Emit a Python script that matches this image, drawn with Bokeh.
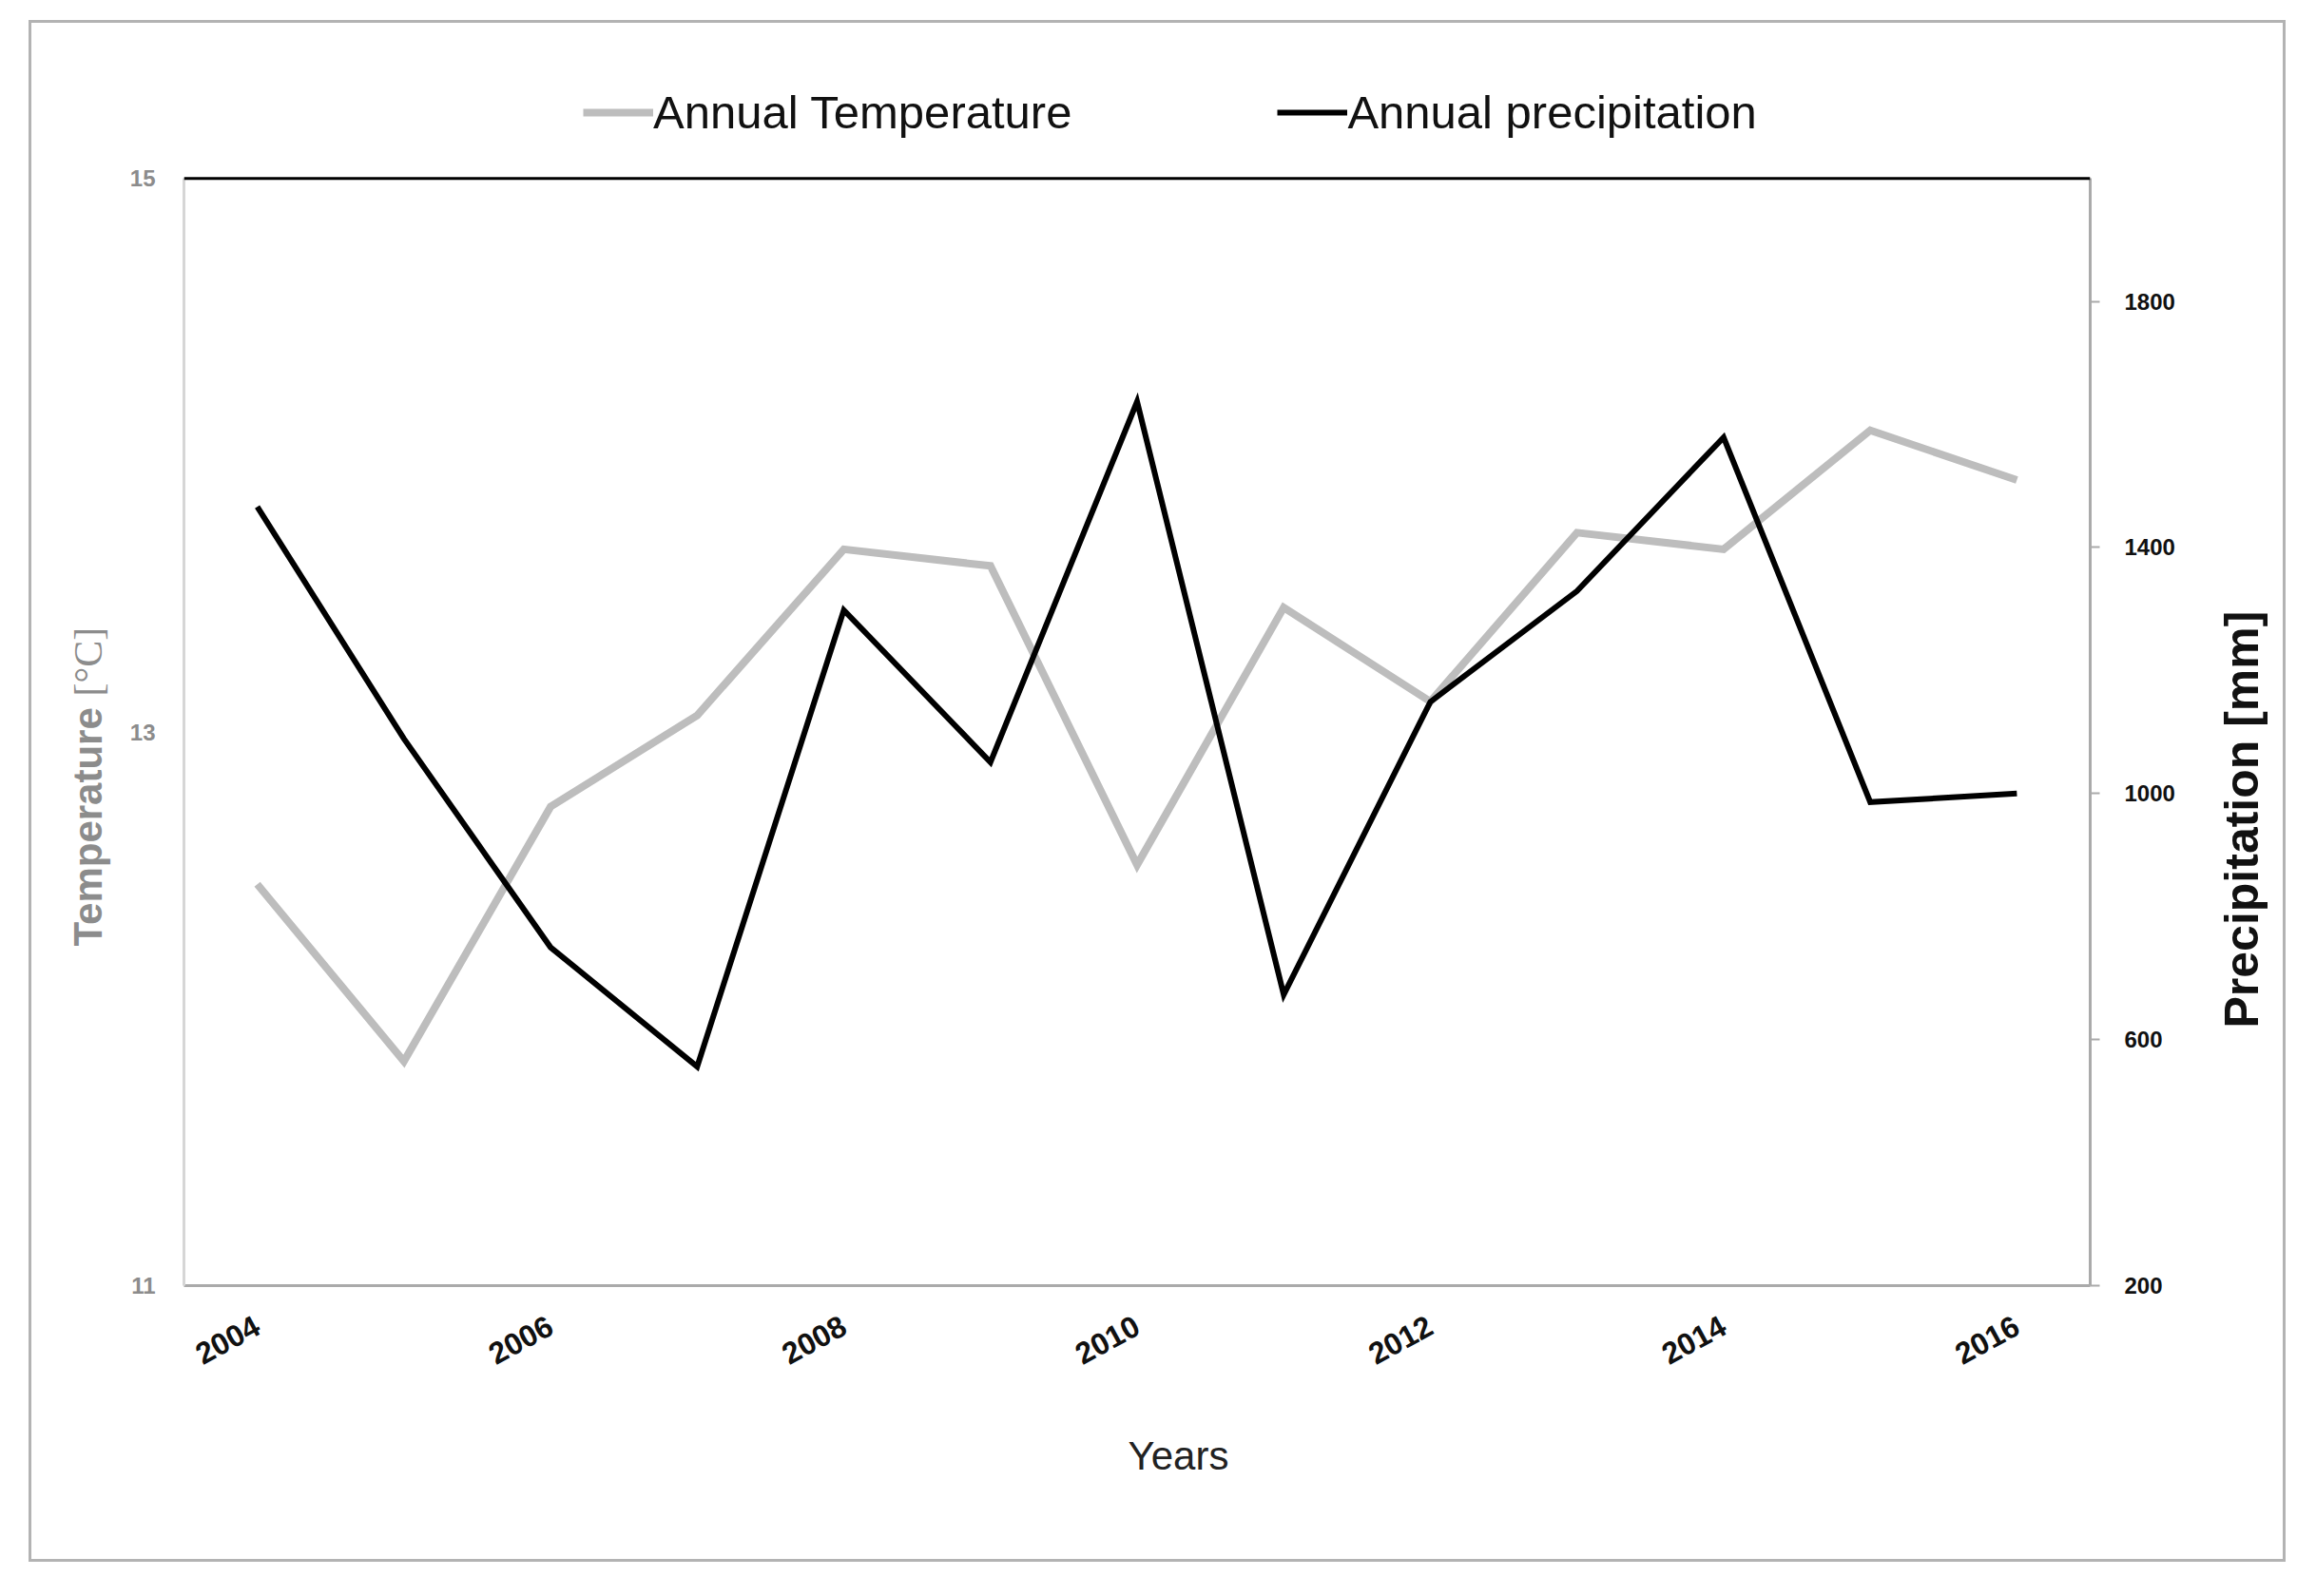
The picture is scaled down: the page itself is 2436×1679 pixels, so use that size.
import math
from bokeh.plotting import figure
from bokeh.models import LinearAxis, Range1d, FixedTicker, Legend, LegendItem, Label, Span
from bokeh.embed import file_html
from bokeh.resources import INLINE

# ---- data ----
years = [2004, 2005, 2006, 2007, 2008, 2009, 2010, 2011, 2012, 2013, 2014, 2015, 2016]
temperature = [12.45, 11.81, 12.73, 13.06, 13.66, 13.60, 12.52, 13.45, 13.11, 13.72, 13.66, 14.09, 13.91]
precipitation = [1466, 1089, 750, 556, 1298, 1051, 1637, 673, 1149, 1329, 1579, 986, 1000]

year_ticks = [2004, 2006, 2008, 2010, 2012, 2014, 2016]
temp_ticks = [11, 13, 15]
precip_ticks = [200, 600, 1000, 1400, 1800]
temp_limits = (11, 15)
precip_limits = (200, 2000)

FONT = "Liberation Sans"
HEADROOM = 0.11  # extra space above the axes' top for the legend

t_span = temp_limits[1] - temp_limits[0]
p_span = precip_limits[1] - precip_limits[0]

p = figure(width=2374, height=1622,
           x_range=Range1d(2003.5, 2016.5),
           y_range=Range1d(temp_limits[0], temp_limits[1] + t_span * HEADROOM),
           output_backend="svg", toolbar_location=None,
           min_border_left=160, min_border_right=209,
           min_border_top=35, min_border_bottom=294)
p.margin = (21, 0, 0, 30)
p.styles = {"border": "3px solid #b3b3b3"}
p.extra_y_ranges = {"precip": Range1d(precip_limits[0], precip_limits[1] + p_span * HEADROOM)}
p.xgrid.visible = False
p.ygrid.visible = False
p.outline_line_color = None
p.background_fill_color = "white"
p.border_fill_color = "white"

# bottom axis
xa = p.xaxis[0]
xa.ticker = FixedTicker(ticks=year_ticks)
xa.major_label_orientation = 0.5
xa.major_label_text_font = FONT
xa.major_label_text_font_style = "bold"
xa.major_label_text_font_size = "32px"
xa.major_label_text_color = "#111111"
xa.major_label_standoff = 34
xa.major_tick_line_color = None
xa.minor_tick_line_color = None
xa.axis_line_color = "#aaaaaa"
xa.axis_line_width = 3

# left axis
ya = p.yaxis[0]
ya.ticker = FixedTicker(ticks=temp_ticks)
ya.bounds = temp_limits
ya.major_label_text_font = FONT
ya.major_label_text_font_style = "bold"
ya.major_label_text_font_size = "24px"
ya.major_label_text_color = "#8c8c8c"
ya.major_label_standoff = 24
ya.major_tick_line_color = None
ya.minor_tick_line_color = None
ya.axis_line_color = "#d6d6d6"
ya.axis_line_width = 3

# right axis
ra = LinearAxis(y_range_name="precip", ticker=FixedTicker(ticks=precip_ticks))
ra.bounds = precip_limits
ra.major_label_text_font = FONT
ra.major_label_text_font_style = "bold"
ra.major_label_text_font_size = "24px"
ra.major_label_text_color = "#111111"
ra.major_label_standoff = 26
ra.major_tick_out = 10
ra.major_tick_in = 0
ra.major_tick_line_color = "#aaaaaa"
ra.major_tick_line_width = 2
ra.minor_tick_line_color = None
ra.axis_line_color = "#aaaaaa"
ra.axis_line_width = 3
p.add_layout(ra, "right")

# top black line at the axes' upper limit
p.add_layout(Span(location=temp_limits[1], dimension="width",
                  line_color="black", line_width=3))

# lines
r_t = p.line(years, temperature, line_color="#bdbdbd", line_width=8, line_join="miter")
r_p = p.line(years, precipitation, y_range_name="precip", line_color="black",
             line_width=6, line_join="miter")

legend = Legend(items=[LegendItem(label="Annual Temperature", renderers=[r_t]),
                       LegendItem(label="Annual precipitation", renderers=[r_p])],
                orientation="horizontal", location=(420, 1206),
                label_text_font=FONT, label_text_font_size="49px",
                label_text_color="#111111",
                glyph_width=74, glyph_height=20, label_standoff=0, spacing=216,
                padding=0, margin=0, border_line_color=None,
                background_fill_alpha=0)
p.add_layout(legend)

# axis titles (canvas coordinates)
p.add_layout(Label(x=56, y=968, x_units="canvas", y_units="canvas",
                   text="Temperature", angle=math.pi / 2,
                   text_align="left", text_baseline="alphabetic",
                   text_font=FONT, text_font_style="bold", text_font_size="42px",
                   text_color="#8c8c8c"), "left")
p.add_layout(Label(x=56, y=705, x_units="canvas", y_units="canvas",
                   text="[°C]", angle=math.pi / 2,
                   text_align="left", text_baseline="alphabetic",
                   text_font="Liberation Serif", text_font_size="42px",
                   text_color="#8c8c8c"), "left")
p.add_layout(Label(x=2321, y=1054, x_units="canvas", y_units="canvas",
                   text="Precipitation [mm]", angle=math.pi / 2,
                   text_align="left", text_baseline="alphabetic",
                   text_font=FONT, text_font_style="bold", text_font_size="50px",
                   text_color="#111111"), "right")
p.add_layout(Label(x=1203, y=1504, x_units="canvas", y_units="canvas",
                   text="Years", text_align="center", text_baseline="alphabetic",
                   text_font=FONT, text_font_size="42px", text_color="#222222"), "below")

open("out.html", "w").write(file_html(p, INLINE))
